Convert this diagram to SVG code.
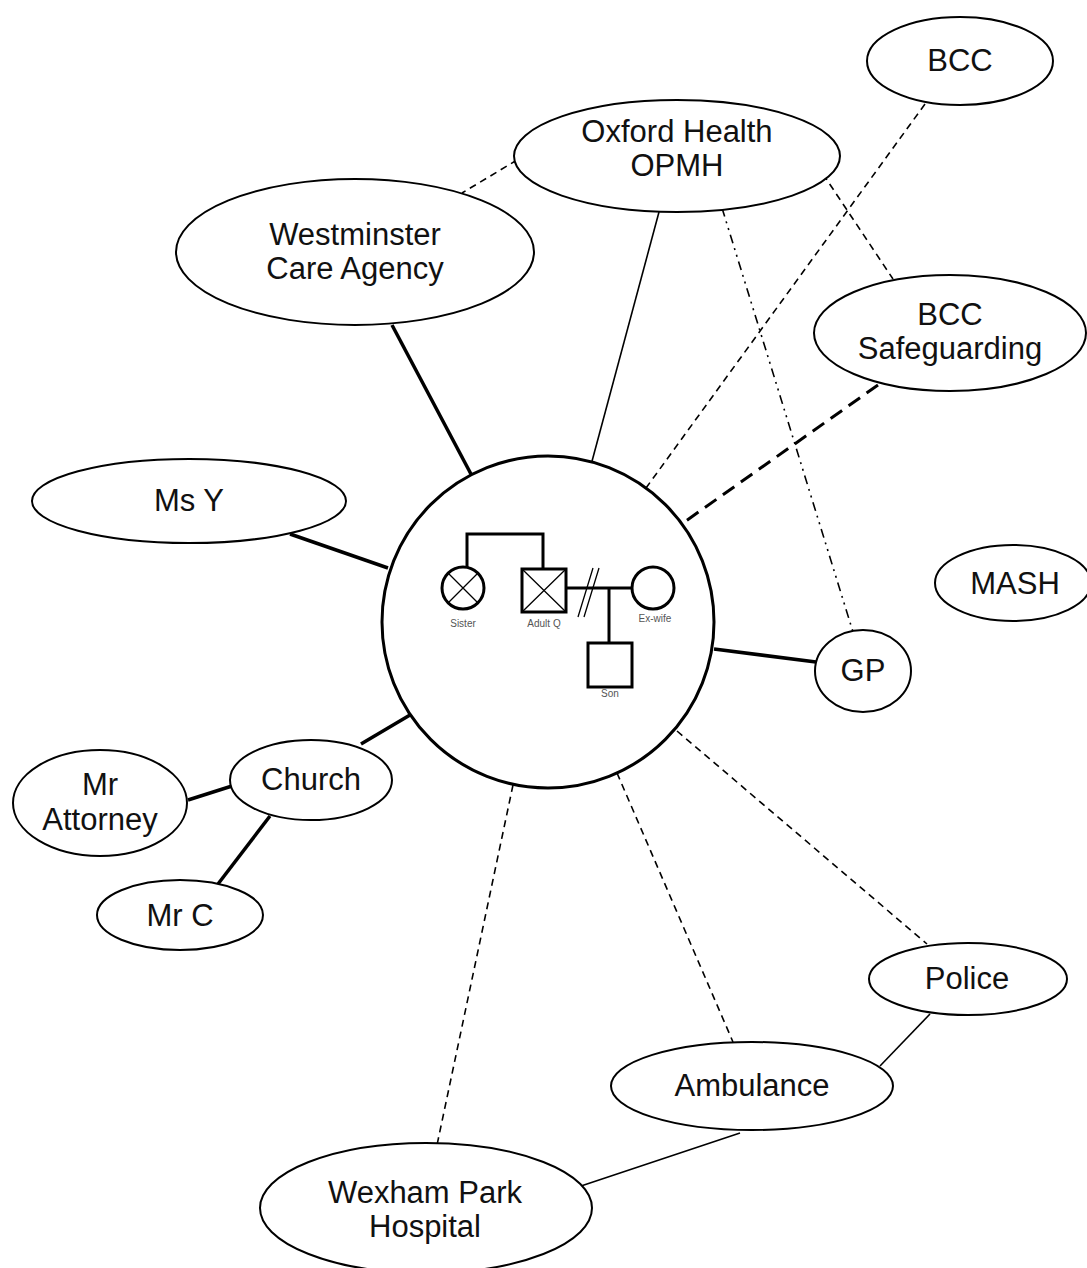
<svg xmlns="http://www.w3.org/2000/svg" width="1087" height="1268" viewBox="0 0 1087 1268">
<style>
.n{fill:#fff;stroke:#000;stroke-width:2}
.t{font-family:"Liberation Sans",Arial,sans-serif;font-size:31px;fill:#111;text-anchor:middle}
.s{font-family:"Liberation Sans",Arial,sans-serif;font-size:10px;fill:#555;text-anchor:middle}
.c{fill:none;stroke:#000}
.thick{stroke-width:3.5}
.thin{stroke-width:1.6}
.dash{stroke-dasharray:7 5}
.ldash{stroke-dasharray:14 8;stroke-width:3}
.dd{stroke-dasharray:9 5 2 5 2 5}
.g{fill:none;stroke:#000;stroke-width:3}
.gx{fill:none;stroke:#000;stroke-width:1.3}
</style>
<rect width="1087" height="1268" fill="#fff"/>
<g id="connectors">
<line class="c thick" x1="392" y1="325" x2="472" y2="476"/>
<line class="c thick" x1="290" y1="534" x2="388" y2="568"/>
<line class="c thin" x1="659" y1="212" x2="591" y2="465"/>
<line class="c thin dash" x1="517" y1="160" x2="462" y2="193"/>
<line class="c thin dash" x1="925" y1="104" x2="646" y2="488"/>
<line class="c thin dash" x1="823" y1="174" x2="893" y2="279"/>
<line class="c ldash" x1="878" y1="385" x2="683" y2="523"/>
<line class="c thin dd" x1="722" y1="208" x2="853" y2="632"/>
<line class="c thick" x1="714" y1="649" x2="816" y2="662"/>
<line class="c thick" x1="361" y1="744" x2="410" y2="715"/>
<line class="c thick" x1="188" y1="800" x2="232" y2="786"/>
<line class="c thick" x1="270" y1="816" x2="218" y2="884"/>
<line class="c thin dash" x1="677" y1="731" x2="927" y2="944"/>
<line class="c thin dash" x1="617" y1="773" x2="733" y2="1042"/>
<line class="c thin dash" x1="513" y1="785" x2="437" y2="1145"/>
<line class="c thin" x1="930" y1="1014" x2="880" y2="1066"/>
<line class="c thin" x1="740" y1="1133" x2="578" y2="1187"/>
</g>
<g id="adult-q">
<circle cx="548" cy="622" r="166" fill="#fff" stroke="#000" stroke-width="3"/>
<path class="g" d="M467,567V534H543V569"/>
<circle class="g" cx="463" cy="588" r="21"/>
<path class="gx" d="M448,573L478,603M478,573L448,603"/>
<rect class="g" x="522" y="569" width="44" height="43"/>
<path class="gx" d="M522,569L566,612M566,569L522,612"/>
<line class="g" x1="566" y1="588" x2="632" y2="588"/>
<path class="gx" d="M578,617L593,568M584,617L599,568"/>
<circle class="g" cx="653" cy="588" r="21"/>
<line class="g" x1="609" y1="588" x2="609" y2="643"/>
<rect class="g" x="588" y="643" width="44" height="44"/>
<text class="s" x="463" y="627">Sister</text>
<text class="s" x="544" y="627">Adult  Q</text>
<text class="s" x="655" y="622">Ex-wife</text>
<text class="s" x="610" y="697">Son</text>
</g>
<g id="oxford"><ellipse class="n" cx="677" cy="156" rx="163" ry="56"/><text class="t" x="677" y="142">Oxford Health</text><text class="t" x="677" y="176">OPMH</text></g>
<g id="bcc"><ellipse class="n" cx="960" cy="61" rx="93" ry="44"/><text class="t" x="960" y="71">BCC</text></g>
<g id="westminster"><ellipse class="n" cx="355" cy="252" rx="179" ry="73"/><text class="t" x="355" y="245">Westminster</text><text class="t" x="355" y="279">Care Agency</text></g>
<g id="bcc-safeguarding"><ellipse class="n" cx="950" cy="333" rx="136" ry="58"/><text class="t" x="950" y="325">BCC</text><text class="t" x="950" y="359">Safeguarding</text></g>
<g id="ms-y"><ellipse class="n" cx="189" cy="501" rx="157" ry="42"/><text class="t" x="189" y="511">Ms Y</text></g>
<g id="mash"><ellipse class="n" cx="1013" cy="583" rx="78" ry="38"/><text class="t" x="1015" y="594">MASH</text></g>
<g id="gp"><ellipse class="n" cx="863" cy="671" rx="48" ry="41"/><text class="t" x="863" y="681">GP</text></g>
<g id="church"><ellipse class="n" cx="311" cy="780" rx="81" ry="40"/><text class="t" x="311" y="790">Church</text></g>
<g id="mr-attorney"><ellipse class="n" cx="100" cy="803" rx="87" ry="53"/><text class="t" x="100" y="795">Mr</text><text class="t" x="100" y="830">Attorney</text></g>
<g id="mr-c"><ellipse class="n" cx="180" cy="915" rx="83" ry="35"/><text class="t" x="180" y="926">Mr C</text></g>
<g id="police"><ellipse class="n" cx="968" cy="979" rx="99" ry="36"/><text class="t" x="967" y="989">Police</text></g>
<g id="ambulance"><ellipse class="n" cx="752" cy="1086" rx="141" ry="44"/><text class="t" x="752" y="1096">Ambulance</text></g>
<g id="wexham"><ellipse class="n" cx="426" cy="1208" rx="166" ry="65"/><text class="t" x="425" y="1203">Wexham Park</text><text class="t" x="425" y="1237">Hospital</text></g>
</svg>
